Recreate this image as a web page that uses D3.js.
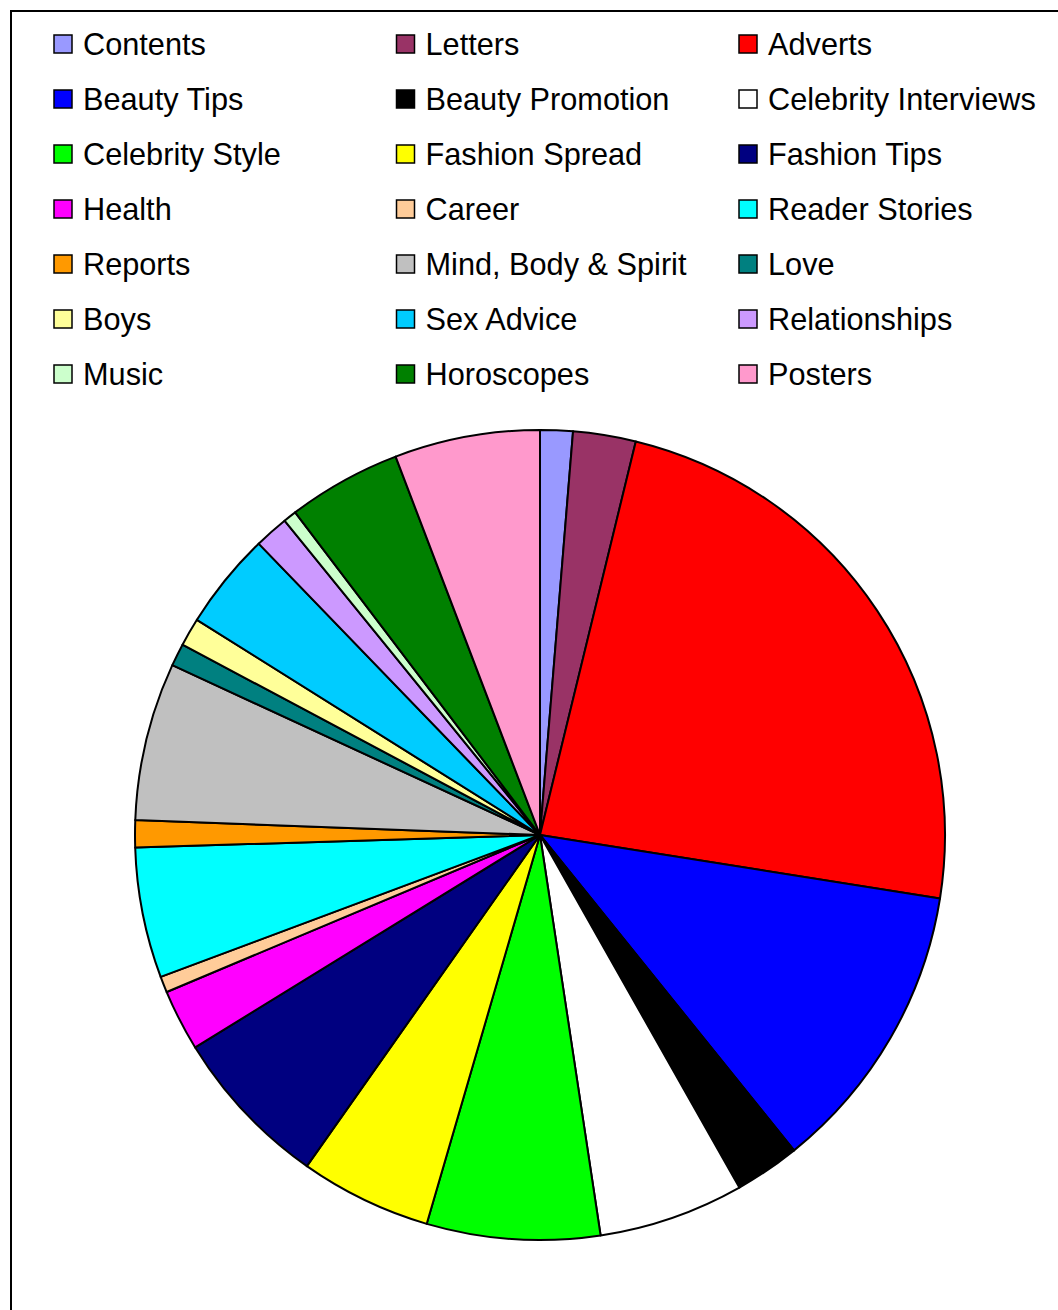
<!DOCTYPE html>
<html>
<head>
<meta charset="utf-8">
<script src="https://cdn.jsdelivr.net/npm/d3@7"></script>
<style>
  body { margin: 0; background: #fff; }
  svg { display: block; }
</style>
</head>
<body>
<div id="chart"></div>
<script>
// magazine content split (share of pages)
const categories = ["Contents", "Letters", "Adverts", "Beauty Tips", "Beauty Promotion",
  "Celebrity Interviews", "Celebrity Style", "Fashion Spread", "Fashion Tips", "Health",
  "Career", "Reader Stories", "Reports", "Mind, Body & Spirit", "Love", "Boys",
  "Sex Advice", "Relationships", "Music", "Horoscopes", "Posters"];
const values = [1.3, 2.5, 23.7, 11.7, 2.6, 5.8, 6.9, 5.25, 6.45, 2.45,
  0.64, 5.2, 1.08, 6.3, 0.9, 1.13, 3.86, 1.36, 0.53, 4.53, 5.8];
const colors = ["#9999ff", "#993366", "#ff0000", "#0000ff", "#000000",
  "#ffffff", "#00ff00", "#ffff00", "#000080", "#ff00ff",
  "#ffcc99", "#00ffff", "#ff9900", "#c0c0c0", "#008080", "#ffff99",
  "#00ccff", "#cc99ff", "#ccffcc", "#008000", "#ff99cc"];

const W = 1058, H = 1310;
const cx = 540, cy = 835, radius = 405;

const svg = d3.select("#chart")
  .append("svg")
  .attr("width", W)
  .attr("height", H);

// chart frame (runs off the right and bottom edge)
svg.append("rect")
  .attr("x", 11).attr("y", 11)
  .attr("width", W + 20).attr("height", H + 20)
  .attr("fill", "#fff")
  .attr("stroke", "#000")
  .attr("stroke-width", 2);

const data = categories.map((c, i) => ({ name: c, value: values[i], color: colors[i] }));

const pie = d3.pie()
  .sort(null)
  .value(d => d.value);

const arc = d3.arc()
  .innerRadius(0)
  .outerRadius(radius);

const g = svg.append("g")
  .attr("transform", `translate(${cx},${cy})`);

g.selectAll("path")
  .data(pie(data))
  .join("path")
  .attr("d", arc)
  .attr("fill", d => d.data.color)
  .attr("stroke", "#000")
  .attr("stroke-width", 2)
  .attr("stroke-linejoin", "round");

// legend, 3 columns filled row by row
const colX = d3.scalePoint().domain([0, 1, 2]).range([54, 739]);
const rowY = d3.scaleLinear().domain([0, 6]).range([44, 374]);

const legend = svg.append("g");
const item = legend.selectAll("g")
  .data(data)
  .join("g")
  .attr("transform", (d, i) => `translate(${colX(i % 3)},${rowY(Math.floor(i / 3))})`);

item.append("rect")
  .attr("x", 0).attr("y", -9)
  .attr("width", 18).attr("height", 18)
  .attr("fill", d => d.color)
  .attr("stroke", "#000")
  .attr("stroke-width", 1.5);

item.append("text")
  .attr("x", 29)
  .attr("y", 0)
  .attr("dy", "0.36em")
  .attr("font-family", "Liberation Sans, Arial, sans-serif")
  .attr("font-size", 30.7)
  .attr("fill", "#000")
  .text(d => d.name);
</script>
</body>
</html>
